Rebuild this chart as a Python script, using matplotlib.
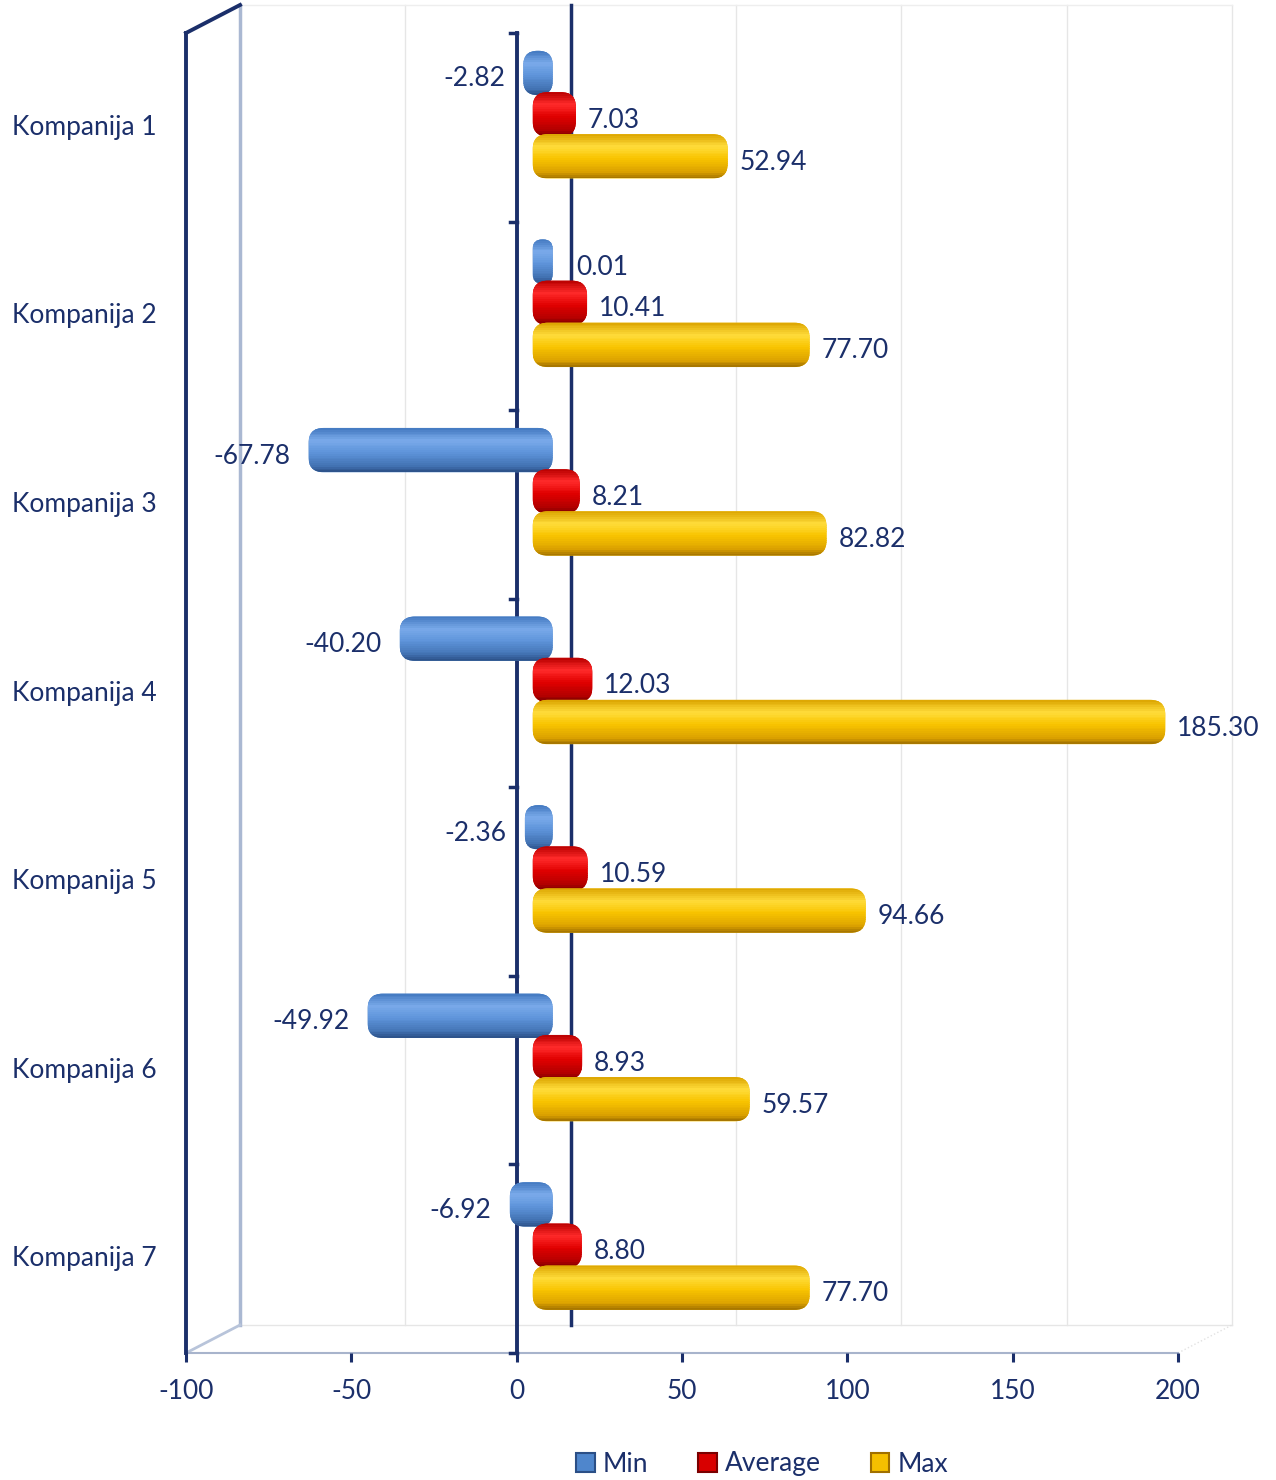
import numpy as np
import matplotlib
matplotlib.use("Agg")
import matplotlib.pyplot as plt
from matplotlib.patches import FancyBboxPatch, Rectangle, Patch
from matplotlib.colors import LinearSegmentedColormap
from matplotlib.transforms import IdentityTransform
from matplotlib.lines import Line2D

companies = ["Kompanija 1", "Kompanija 2", "Kompanija 3", "Kompanija 4",
             "Kompanija 5", "Kompanija 6", "Kompanija 7"]
min_vals = [-2.82, 0.01, -67.78, -40.20, -2.36, -49.92, -6.92]
avg_vals = [7.03, 10.41, 8.21, 12.03, 10.59, 8.93, 8.80]
max_vals = [52.94, 77.70, 82.82, 185.30, 94.66, 59.57, 77.70]
series_names = ["Min", "Average", "Max"]
x_ticks = [-100, -50, 0, 50, 100, 150, 200]

navy = "#1b2f6a"
plt.rcParams['font.family'] = ['Lato', 'DejaVu Sans']
fs = 19

# gradients (top -> bottom) for the cylinder look
grads = [
    ["#4278c0", "#7aaaea", "#5e94da", "#4373b4", "#2b4f86"],
    ["#b80000", "#ff2a2a", "#e00000", "#b40000", "#7a0000"],
    ["#dba400", "#ffdc3a", "#f8c400", "#dca200", "#a07000"],
]
base_cols = ["#4f86cc", "#d80000", "#f5c000"]
edge_cols = ["#2b4f86", "#7a0000", "#a07000"]
offsets = [-0.288, -0.069, 0.154]   # bar centre vs category centre
bar_h = 0.235
front_px, back_px = 16, 36           # fake 3D depth of the bars

W, H = 1276, 1480
fig = plt.figure(figsize=(W / 100, H / 100), dpi=100)
ax = fig.add_axes([186 / W, (H - 1353) / H, (1178 - 186) / W, (1353 - 33) / H])
ax.set_xlim(-100, 200)
ax.set_ylim(len(companies) - 0.5, -0.5)
ax.patch.set_alpha(0)
for s in ax.spines.values():
    s.set_visible(False)
ax.set_yticks([])
ax.set_xticks(x_ticks)
ax.set_xticklabels([str(t) for t in x_ticks])
ax.tick_params(axis='x', direction='out', length=6.5, width=2.2, color=navy,
               labelcolor=navy, labelsize=fs, pad=12)

ident = IdentityTransform()
depth = np.array([54, 28])


def line(p, q, **kw):
    ax.add_line(Line2D([p[0], q[0]], [p[1], q[1]], transform=ident,
                       clip_on=False, **kw))


A = ax.transAxes.transform((0, 0))
B = ax.transAxes.transform((0, 1))
C = ax.transAxes.transform((1, 0))
D = ax.transAxes.transform((1, 1))

# back wall grid
for t in x_ticks[1:]:
    xp = ax.transData.transform((t, 0))[0]
    if t == 0:
        line((xp + depth[0], A[1] + depth[1]), (xp + depth[0], B[1] + depth[1]),
             color=navy, lw=2.5, zorder=1)
    else:
        line((xp + depth[0], A[1] + depth[1]), (xp + depth[0], B[1] + depth[1]),
             color="#e6e6e6", lw=1, zorder=0)
line(B + depth, D + depth, color="#eeeeee", lw=1, zorder=0)
line(A + depth, C + depth, color="#e6e6e6", lw=1, zorder=0)
line(C, C + depth, color="#e2e2e2", lw=1, ls=":", zorder=0)

# left wall
line(A + depth, B + depth, color="#aab8d2", lw=2.5, zorder=1)
line(A, A + depth, color="#b8c4da", lw=2, zorder=1)
line(A, B, color=navy, lw=2.8, zorder=2)
line(B, B + depth, color=navy, lw=2.8, zorder=2)

# floor front edge
line(A, C, color="#a8b4cc", lw=1.5, zorder=1)

# front value axis at zero with category ticks
x0p = ax.transData.transform((0, 0))[0]
line((x0p, A[1]), (x0p, B[1]), color=navy, lw=2.8, zorder=3)
for i in range(len(companies) + 1):
    yp = ax.transData.transform((0, i - 0.5))[1]
    line((x0p - 7, yp), (x0p, yp), color=navy, lw=2.5, zorder=3)


def draw_bar(v, yc, k):
    (xa, ya) = ax.transData.transform((min(0, v), yc + bar_h / 2))
    (xb, yb) = ax.transData.transform((max(0, v), yc - bar_h / 2))
    x_left = xa + front_px
    x_right = xb + back_px
    w = x_right - x_left
    h = yb - ya
    r = min(15, w / 2 - 0.5, h / 2)
    z = 5 + k
    patch = FancyBboxPatch((x_left, ya), w, h,
                           boxstyle="round,pad=0,rounding_size=%f" % r,
                           transform=ident, facecolor=base_cols[k],
                           edgecolor="none", zorder=z, clip_on=False)
    ax.add_patch(patch)
    cmap = LinearSegmentedColormap.from_list("g", list(zip([0, 0.28, 0.55, 0.85, 1.0], grads[k])))
    n = 24
    for j in range(n):
        t = 1 - (j + 0.5) / n
        st = Rectangle((x_left, ya + h * j / n), w, h / n + 0.6, transform=ident,
                       facecolor=cmap(t), edgecolor="none", zorder=z)
        ax.add_patch(st)
        st.set_clip_path(patch)
        st.set_clip_box(None)


for k, vals in enumerate([min_vals, avg_vals, max_vals]):
    for i, v in enumerate(vals):
        yc = i + offsets[k]
        draw_bar(v, yc, k)
        txt = "%.2f" % v
        if v < 0:
            ax.annotate(txt, (v, yc), xytext=(-1.5, -4.3), textcoords='offset points',
                        ha='right', va='center', fontsize=fs, color=navy, zorder=20)
        else:
            dx = 43 if k == 0 else 34.5
            ax.annotate(txt, (v, yc), xytext=(dx, -4.3), textcoords='offset points',
                        ha='left', va='center', fontsize=fs, color=navy, zorder=20)

for i, name in enumerate(companies):
    ax.text(-174 / 992, i, name, transform=ax.get_yaxis_transform(), ha='left',
            va='center', fontsize=fs, color=navy)

handles = [Patch(facecolor=base_cols[k], edgecolor=edge_cols[k], lw=1.5) for k in range(3)]
fig.legend(handles, series_names, loc='center', bbox_to_anchor=(762 / W, 1 - 1464 / H),
           ncol=3, frameon=False, fontsize=fs, handlelength=0.7, handleheight=0.7,
           handletextpad=0.3, columnspacing=1.9, labelcolor=navy)

fig.savefig("out.png", dpi=100)
